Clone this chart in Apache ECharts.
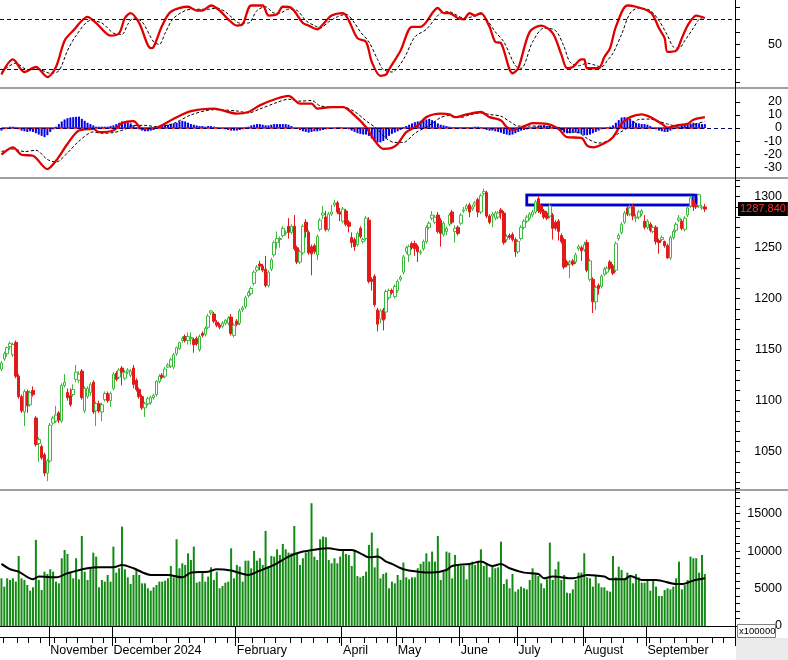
<!DOCTYPE html>
<html><head><meta charset="utf-8">
<script src="https://cdn.jsdelivr.net/npm/echarts@6/dist/echarts.min.js"></script>
<style>html,body{margin:0;padding:0;background:#fff}#c{width:788px;height:660px}</style>
</head><body><div id="c"></div>
<script>
// ---- Price candles [open, close, low, high] by month ----
const candlesOct = [
[1131,1137,1129,1139],[1141,1146,1139,1148],[1146,1152,1143,1153],[1153,1156,1150,1158],[1145,1155,1143,1157],
[1157,1124,1122,1159],[1124,1104,1102,1126],[1104,1090,1088,1106],[1089,1109,1075,1111],[1109,1095,1088,1111],
[1096,1108,1094,1110],[1110,1106,1104,1114],[1083,1057,1055,1085],[1058,1062,1040,1064],[1055,1044,1042,1057],
[1047,1029,1026,1049],[1029,1041,1021,1043]];
const candlesNov = [
[1041,1076,1039,1078],[1078,1083,1076,1085],[1080,1086,1078,1095],[1088,1081,1078,1090],[1080,1115,1078,1117],
[1115,1118,1113,1126],[1108,1103,1100,1112],[1105,1096,1094,1112],[1106,1111,1104,1116],[1121,1128,1118,1135],
[1120,1126,1117,1129],[1129,1103,1101,1131],[1090,1112,1088,1114],[1104,1112,1102,1114],[1108,1116,1105,1118],
[1118,1089,1087,1120],[1090,1097,1075,1099],[1097,1090,1088,1100],[1089,1096,1080,1098],[1101,1107,1099,1109],
[1107,1100,1098,1109],[1100,1107,1094,1109]];
const candlesDec = [
[1112,1126,1110,1128],[1127,1121,1119,1129],[1123,1130,1121,1132],[1132,1128,1115,1134],[1122,1128,1120,1130],
[1128,1130,1126,1132],[1125,1129,1123,1131],[1132,1116,1112,1135],[1120,1111,1109,1122],[1111,1104,1102,1113],
[1104,1093,1091,1106],[1093,1097,1084,1099],[1097,1102,1095,1104],[1098,1103,1096,1105],[1103,1105,1101,1107],
[1106,1119,1104,1120],[1119,1124,1117,1126],[1125,1123,1121,1127],[1124,1131,1122,1133],[1133,1135,1132,1137],
[1134,1140,1132,1142]];
const candlesJan = [
[1133,1145,1131,1147],[1146,1152,1144,1153],[1151,1157,1150,1158],[1159,1161,1157,1163],[1163,1159,1157,1165],
[1159,1163,1155,1167],[1161,1162,1155,1167],[1160,1155,1147,1162],[1161,1156,1154,1163],[1150,1163,1148,1165],
[1166,1164,1162,1168],[1165,1171,1163,1173],[1172,1183,1170,1185],[1186,1188,1184,1189],[1185,1178,1176,1187],
[1177,1174,1172,1179],[1174,1172,1170,1176],[1173,1176,1171,1178],[1176,1179,1174,1180],[1176,1181,1174,1183],
[1182,1166,1164,1185],[1164,1174,1162,1176]];
const candlesFeb = [
[1178,1175,1173,1180],[1176,1188,1174,1190],[1189,1191,1187,1193],[1192,1201,1190,1203],[1203,1206,1201,1208],
[1205,1210,1203,1212],[1215,1226,1213,1228],[1228,1231,1226,1233],[1234,1232,1228,1237],[1232,1228,1226,1234],
[1229,1213,1211,1242],[1213,1226,1211,1228],[1229,1238,1227,1240],[1243,1255,1241,1257],[1255,1259,1249,1266],
[1258,1259,1250,1261]];
const candlesMar = [
[1262,1269,1260,1271],[1264,1265,1262,1267],[1271,1265,1259,1279],[1265,1271,1263,1273],[1271,1249,1247,1282],
[1250,1236,1234,1252],[1236,1246,1234,1248],[1245,1271,1243,1273],[1275,1266,1260,1278],[1265,1245,1243,1267],
[1251,1244,1223,1253],[1252,1246,1244,1254],[1243,1261,1238,1263],[1268,1277,1266,1279],[1282,1284,1278,1291],
[1280,1268,1266,1286],[1268,1283,1266,1285],[1283,1285,1281,1292],[1292,1294,1290,1297],[1294,1285,1283,1296],
[1285,1283,1276,1289]];
const candlesApr = [
[1276,1288,1274,1290],[1286,1273,1271,1288],[1275,1271,1265,1277],[1260,1255,1250,1265],[1258,1251,1247,1260],
[1253,1264,1251,1266],[1269,1261,1259,1271],[1256,1258,1254,1260],[1259,1279,1257,1281],[1277,1217,1215,1280],
[1219,1217,1208,1221],[1222,1194,1192,1224],[1189,1175,1168,1191],[1180,1188,1176,1190],[1189,1179,1169,1191],
[1187,1207,1180,1209],[1201,1208,1199,1210],[1208,1206,1204,1210],[1202,1212,1200,1214],[1208,1217,1206,1219]];
const candlesMay = [
[1219,1221,1217,1223],[1226,1241,1224,1243],[1246,1250,1244,1252],[1243,1251,1236,1253],[1254,1250,1248,1256],
[1254,1249,1242,1257],[1251,1246,1236,1253],[1245,1246,1243,1248],[1249,1256,1247,1258],[1256,1270,1254,1272],
[1270,1274,1268,1276],[1279,1282,1277,1286],[1275,1280,1273,1282],[1282,1266,1264,1285],[1277,1264,1251,1279],
[1263,1274,1261,1276],[1266,1269,1262,1271],[1273,1282,1271,1284],[1285,1275,1273,1287],[1266,1269,1255,1272],
[1270,1264,1262,1272],[1274,1282,1272,1284]];
const candlesJun = [
[1286,1287,1284,1290],[1288,1291,1286,1293],[1292,1285,1280,1294],[1288,1290,1286,1292],[1292,1294,1290,1296],
[1297,1285,1280,1299],[1285,1301,1283,1303],[1303,1305,1301,1308],[1304,1281,1279,1306],[1281,1275,1273,1283],
[1281,1283,1270,1285],[1279,1284,1277,1286],[1280,1284,1278,1286],[1287,1284,1278,1289],[1284,1255,1253,1286],
[1258,1261,1256,1263],[1262,1260,1258,1264],[1263,1258,1256,1265],[1258,1246,1241,1260],[1246,1256,1244,1258]];
const candlesJul = [
[1259,1270,1257,1272],[1270,1276,1268,1278],[1276,1280,1274,1282],[1279,1283,1277,1285],[1282,1285,1280,1287],
[1285,1295,1283,1297],[1298,1286,1284,1301],[1291,1285,1283,1293],[1286,1280,1278,1288],[1284,1279,1277,1286],
[1281,1291,1279,1293],[1282,1269,1258,1284],[1275,1269,1267,1277],[1276,1266,1257,1278],[1262,1256,1254,1264],
[1258,1231,1229,1260],[1236,1233,1231,1238],[1234,1236,1220,1238],[1237,1234,1232,1239],[1236,1243,1234,1245],
[1249,1251,1247,1253],[1250,1247,1237,1252],[1248,1253,1246,1256],[1255,1228,1226,1258]];
const candlesAug = [
[1219,1237,1217,1239],[1219,1197,1186,1221],[1197,1211,1189,1213],[1213,1210,1204,1215],[1212,1222,1210,1224],
[1224,1229,1222,1231],[1226,1230,1224,1232],[1236,1230,1228,1238],[1232,1225,1223,1234],[1228,1254,1226,1256],
[1259,1262,1257,1264],[1265,1273,1263,1275],[1275,1284,1273,1286],[1289,1283,1281,1291],[1283,1289,1281,1292],
[1290,1281,1277,1293],[1279,1280,1275,1283],[1280,1285,1278,1287],[1283,1286,1281,1288],[1276,1270,1268,1282]];
const candlesSep = [
[1270,1276,1268,1278],[1273,1267,1265,1275],[1266,1270,1264,1272],[1270,1256,1253,1272],[1257,1255,1244,1259],
[1258,1260,1256,1262],[1256,1252,1250,1257],[1252,1240,1239,1254],[1240,1260,1238,1262],[1260,1266,1258,1268],
[1267,1273,1265,1275],[1277,1279,1275,1282],[1276,1269,1267,1278],[1268,1279,1266,1281],[1282,1289,1280,1291],
[1291,1299,1289,1301],[1296,1290,1286,1301],[1292,1290,1288,1294],[1291,1302,1289,1303],[1289,1290,1287,1292],
[1290,1287.84,1285,1293]];
const lastPrice = 1287.84;

// ---- Volume (x100000) ----
const volumes = [
6370,5260,6370,6150,6370,5930,9360,6370,6150,5480,4720,5170,11500,6150,4810,7260,6950,7580,7260,5930,
5700,9050,10160,9630,7130,6370,9050,6240,12030,7260,6150,7840,9800,9270,5170,6150,5930,6820,5930,10610,
7130,7710,13280,7580,6500,5610,6820,7490,6820,5700,5700,5040,4720,5170,5480,5930,5930,6060,6370,8020,
6500,11590,7710,8380,8160,9710,8820,10610,5790,5930,7260,5930,6600,7840,6150,7260,5040,5350,5790,5930,
10380,6370,8160,7930,5930,8730,8730,7710,10030,8730,9050,8160,12700,7930,9360,9270,10250,9490,10960,10250,
9800,9710,13370,9710,8160,9050,9800,9940,16400,9270,8820,11590,11940,11850,8820,8380,9050,8380,9270,10250,
9630,9490,8020,10160,6680,6500,6680,7260,10830,12480,7840,10380,6370,6950,7130,5040,5930,5700,6820,6150,
8470,6500,6240,6500,6500,7710,8290,8600,9710,8600,9940,8600,12030,6150,7260,9940,9800,6370,9490,8160,
8020,8020,6240,8160,8600,8160,8600,10250,8020,8380,6500,8020,7710,7840,11270,5610,6240,5040,6950,4590,
4900,5260,5040,4900,6150,7710,6950,6680,5700,5040,6240,11140,6150,7580,8600,6150,6820,4450,4370,4900,
6150,7130,7130,9710,6500,6370,5260,6680,5700,5170,5170,4720,4590,9360,6500,7930,7490,6150,7130,6820,
5700,6950,6500,5790,5790,6240,4720,6240,5260,4010,4010,4810,5040,4900,5260,6370,8600,4900,5480,6150,
9270,9050,9050,7130,9490,6950];
const volumeMa = [[0,8290],[3,7580],[6,7260],[11,6240],[13,6600],[19,6500],[23,7040],[30,7710],[34,7840],[39,7840],
[42,8160],[46,7710],[52,6820],[58,6820],[63,6500],[66,7130],[72,7260],[75,7580],[80,7400],[86,6820],[90,7400],
[95,8160],[100,9270],[105,9940],[110,10250],[114,10380],[118,10160],[122,10160],[125,9710],[128,9180],[131,9270],
[134,8600],[136,8290],[140,7580],[145,7260],[150,7130],[155,7490],[157,8020],[163,8290],[167,8600],[171,8020],
[174,8290],[177,7710],[182,7130],[187,6950],[189,6370],[192,6600],[199,6370],[204,6820],[210,6600],[212,6240],
[217,6240],[219,6680],[223,6150],[228,6150],[235,5610],[237,5610],[241,6060],[245,6370]];

// ---- RSI ----
const rsiLine = [[0,26],[4,38],[8,28],[12,32],[16,24],[19,32],[22,53],[25,61],[30,72],[33,67],[38,57],[41,59],[43,71],
[45,75],[48,67],[52,47],[53,48],[56,65],[59,76],[65,80],[68,77],[70,77],[73,81],[76,77],[79,70],[82,65],[84,66],
[87,81],[91,81],[93,73],[96,74],[98,80],[101,79],[105,67],[107,65],[110,62],[112,66],[115,73],[119,75],[121,69],
[124,55],[127,52],[129,36],[132,25],[134,26],[135,30],[139,45],[143,64],[146,64],[152,79],[154,75],[156,75],
[159,71],[161,70],[163,75],[165,73],[167,75],[170,64],[172,52],[174,51],[178,27],[180,31],[184,60],[188,65],
[192,59],[195,42],[197,31],[199,32],[202,38],[203,38],[204,31],[208,31],[210,40],[212,47],[214,64],[218,81],
[221,80],[225,77],[227,73],[229,63],[231,55],[232,44],[235,45],[237,55],[239,65],[242,73],[245,71]];
const rsiSignal = [[0,28],[5,35],[9,30],[13,30],[17,27],[20,29],[23,45],[26,57],[31,69],[35,67],[39,59],[42,58],[44,66],
[46,71],[49,68],[53,52],[55,50],[57,59],[60,71],[66,78],[69,78],[72,78],[75,79],[78,76],[80,72],[83,67],[86,67],
[89,77],[92,80],[95,75],[97,75],[100,78],[103,77],[106,69],[109,65],[111,63],[114,68],[117,72],[120,74],[123,67],
[125,60],[128,52],[131,38],[133,30],[136,28],[140,38],[144,56],[148,62],[153,75],[156,76],[158,74],[161,71],
[164,72],[167,74],[169,70],[172,60],[175,52],[179,33],[181,31],[185,52],[189,63],[193,61],[196,48],[198,36],
[201,33],[204,35],[206,34],[209,32],[211,37],[213,43],[216,58],[219,75],[222,79],[226,77],[229,69],[232,57],
[234,48],[236,47],[238,53],[241,63],[243,70],[245,72]];
const rsiLevels = [70, 30];

// ---- MACD ----
const macdLine = [[0,-20.4],[4,-14.8],[7,-20.4],[11,-21.2],[16,-31.4],[19,-25],[23,-12.2],[27,-1.9],[32,-0.6],[34,-3.2],
[39,-1.9],[42,3.7],[46,5.2],[49,-0.6],[54,0.2],[60,7.1],[66,12.9],[74,14.8],[82,10.9],[86,12.2],[90,17.3],[96,22.5],
[100,24.5],[104,18.6],[108,18.6],[110,14.8],[115,16],[119,16],[123,9.6],[127,0.6],[130,-9.6],[133,-16],[136,-15.2],
[138,-12.2],[141,-3.2],[145,1.9],[148,8.3],[153,10.9],[156,10.4],[158,8.3],[162,10.4],[167,12.2],[170,8.3],[174,5.8],
[176,0.6],[178,-1.4],[182,1.2],[185,3.7],[190,3.2],[194,-0.6],[197,-7],[202,-7.5],[204,-13.5],[206,-14.8],[210,-11.7],
[213,-7],[216,3.2],[219,8.3],[223,10.4],[226,8.3],[230,3.2],[232,0.2],[235,1.9],[239,3.2],[241,6.3],[245,8.3]];
const macdSignal = [[0,-18],[4,-16],[8,-18],[12,-17],[16,-24],[19,-26],[23,-19],[27,-10],[32,-3],[35,-4],[39,-3.5],
[43,-1],[46,2],[50,2],[54,1],[60,3.5],[66,10],[74,14],[82,13],[86,11.5],[90,14.5],[96,19.5],[100,22],[104,20.5],
[108,21],[111,17],[115,16],[119,16],[123,12.5],[127,5.5],[131,-1],[134,-8],[137,-11],[140,-11],[144,-4],[149,2],
[153,8],[156,9.5],[160,8],[163,10],[167,11.5],[170,10.3],[174,9],[177,5],[180,1.5],[184,1.5],[189,1.5],[194,0.5],
[197,-3],[201,-3.5],[204,-8],[208,-11.5],[211,-10],[215,-4],[219,1.3],[222,6.5],[226,6.8],[229,5],[232,3],[235,1.4],
[239,0.2],[241,2.5],[245,5]];
const macdHist = [
-2,-1,0,1,1,0.5,-1,-2,-2.5,-3,-2.5,-3,-4,-5,-6,-7,-5.5,-3,-1,1,
3,5,6.5,7.5,8,8.3,8.5,8.7,7,5.5,4,3,2,1,1,1,1,1,1.5,2,
3,4,5,5,4.5,3.5,2,0.5,-1,-2,-2.5,-2.5,-2,-1.5,-0.5,0.5,1.5,2,2.5,3,
3.5,4,5,5.5,5,4,3,2.5,2,1.5,1.5,1,1.5,1.5,1,0.5,0,-0.5,-1,-1.5,
-2,-2,-2,-1.5,-1,0.5,1,2,2.5,3,3,2.5,2,2,2.5,3,3,3,3,3,
2.5,1.5,0,-0.5,-1.5,-2.5,-3,-3.5,-3,-2.5,-2.5,-2,-1.5,-1,-0.5,-0.5,0,0.5,0.5,0,
-0.5,-1,-2,-3,-4,-4.5,-5,-5,-6,-8,-10,-11,-11,-10,-8,-6,-4.5,-3.5,-2.5,-1.5,
0.5,1.5,2.5,3.5,4.5,5,5.5,6,6.5,7,6,5,3.5,2.5,2,1.5,1,0.5,0.5,0.5,
0.5,0.5,0.5,0.5,0.5,1,1,0.5,-0.5,-1.5,-2,-2,-2.5,-3,-3.5,-4.5,-5,-5.5,-5,-4,
-3,-2,-1.5,-1,0,0.5,1,1.5,2,2,1.5,1.5,1,0.5,-1,-2,-3.5,-4,-4,-3,
-3.5,-4,-4.5,-5.5,-5.5,-5,-4,-3,-2,-1,-0.5,0.5,1,2,4,6,8,8.3,8,7,
5.5,4,3.5,3,3,2.5,1.5,0,-1,-2,-2.5,-3,-3,-2,-1,0.5,1,2,2.5,3,
3.5,4,3.5,3.5,3,3];

// ---- Time axis labels (trading-day index where each month starts) ----
const monthLabels = [[17,'November'],[39,'December'],[60,'2024'],[82,'February'],[119,'April'],[138,'May'],
[160,'June'],[180,'July'],[203,'August'],[225,'September']];
const monthSeparators = [17,39,82,119,138,160,180,203,225];

// ---- Build ----
const candles = [].concat(candlesOct,candlesNov,candlesDec,candlesJan,candlesFeb,candlesMar,candlesApr,
  candlesMay,candlesJun,candlesJul,candlesAug,candlesSep);
const N_CATS = 256;
const xCats = Array.from({length: N_CATS}, (_, i) => String(i));
const labelMap = {}; monthLabels.forEach(m => labelMap[m[0]] = m[1]);
const sepSet = new Set(monthSeparators);
const labelSet = new Set(monthLabels.map(m => m[0]));
const FONT = "'Liberation Sans', Arial, sans-serif";
const RED = '#e00000', GREEN = '#3cb83c', NAVY = '#000080';
const plain = (v) => String(v);

function hiddenX(g, extra) {
  return Object.assign({type:'category', gridIndex:g, data:xCats, boundaryGap:true,
    axisLine:{show:false}, axisTick:{show:false}, axisLabel:{show:false}, splitLine:{show:false}}, extra || {});
}
function yLabel(extra) {
  return Object.assign({color:'#000', fontFamily:FONT, fontSize:12.5, align:'right', margin:47, formatter:plain}, extra || {});
}
function rightY(g, extra) {
  return Object.assign({type:'value', gridIndex:g, position:'right', scale:false,
    axisLine:{show:false},
    axisTick:{show:true, inside:false, length:5, lineStyle:{color:'#000'}},
    axisLabel:yLabel(),
    splitLine:{show:false}}, extra || {});
}
function weekTick(i) {
  return Math.floor((i*2.87 - 2.6)/12.4) !== Math.floor(((i-1)*2.87 - 2.6)/12.4) && !sepSet.has(i);
}

const chart = echarts.init(document.getElementById('c'), null, {renderer:'canvas'});
chart.setOption({
  animation:false,
  backgroundColor:'#fff',
  grid:[
    {left:0, right:53, top:6.75, height:75.3},
    {left:0, right:53, top:101.8, height:65.5},
    {left:0, right:53, top:180.4, height:308},
    {left:0, right:53, top:492, height:134}
  ],
  xAxis:[
    hiddenX(0), hiddenX(1), hiddenX(2),
    hiddenX(3, {axisLine:{show:true, onZero:false, lineStyle:{color:'#000', width:1}}}),
    hiddenX(3, {position:'bottom', offset:11, axisLine:{show:true, onZero:false, lineStyle:{color:'#000'}},
      axisTick:{show:true, length:6, lineStyle:{color:'#000'}, interval:(i)=>weekTick(i)}}),
    hiddenX(3, {position:'bottom', offset:11,
      axisTick:{show:true, length:20, lineStyle:{color:'#000'}, interval:(i)=>sepSet.has(i)},
      axisLabel:{show:true, interval:(i)=>labelSet.has(i), formatter:(v,i)=>labelMap[i]||'',
        align:'left', margin:7, color:'#000', fontFamily:FONT, fontSize:12.5}})
  ],
  yAxis:[
    rightY(0, {min:20, max:80, interval:10, axisLabel:yLabel({formatter:(v)=> v===50 ? '50' : ''})}),
    rightY(1, {min:-30, max:20, interval:10}),
    rightY(2, {min:1014, max:1316, splitNumber:6,
      minorTick:{show:true, splitNumber:5, length:5, lineStyle:{color:'#000'}},
      axisLabel:yLabel({showMinLabel:false, showMaxLabel:false})}),
    rightY(3, {min:0, max:17900, interval:5000,
      minorTick:{show:true, splitNumber:5, length:5, lineStyle:{color:'#000'}},
      axisLabel:yLabel({showMaxLabel:false})})
  ],
  series:[
    {type:'line', xAxisIndex:0, yAxisIndex:0, data:rsiSignal, symbol:'none', clip:false, silent:true, smooth:0.3,
      lineStyle:{color:'#000', width:1, type:[3,2]},
      markLine:{silent:true, symbol:'none', label:{show:false},
        lineStyle:{color:NAVY, width:1, type:[4,3]}, data:rsiLevels.map(v=>({yAxis:v}))}},
    {type:'line', xAxisIndex:0, yAxisIndex:0, data:rsiLine, symbol:'none', clip:false, silent:true, smooth:0.3,
      lineStyle:{color:RED, width:2.3}},
    {type:'bar', xAxisIndex:1, yAxisIndex:1, data:macdHist, barWidth:2, silent:true,
      itemStyle:{color:'#0000ee'},
      markLine:{silent:true, symbol:'none', label:{show:false},
        lineStyle:{color:NAVY, width:1, type:[4,3]}, data:[{yAxis:0}]}},
    {type:'line', xAxisIndex:1, yAxisIndex:1, data:[[0,0],[candles.length-1,0]], symbol:'none', silent:true,
      lineStyle:{color:RED, width:1.3}},
    {type:'line', xAxisIndex:1, yAxisIndex:1, data:macdSignal, symbol:'none', clip:false, silent:true, smooth:0.3,
      lineStyle:{color:'#000', width:1, type:[3,2]}},
    {type:'line', xAxisIndex:1, yAxisIndex:1, data:macdLine, symbol:'none', clip:false, silent:true, smooth:0.3,
      lineStyle:{color:RED, width:2.3}},
    {type:'candlestick', xAxisIndex:2, yAxisIndex:2, data:candles, barWidth:3, silent:true,
      itemStyle:{color:'#ffffff', color0:'#e31a1a', borderColor:GREEN, borderColor0:'#e31a1a', borderWidth:1},
      markLine:{silent:true, symbol:'none', lineStyle:{color:'rgba(0,0,0,0)', width:1},
        label:{show:true, position:'end', distance:3, formatter:lastPrice.toFixed(3),
          backgroundColor:'#000', color:'#ff3030', fontFamily:FONT, fontSize:11, padding:[2,2,1,2]},
        data:[{yAxis:lastPrice}]},
      markArea:{silent:true, itemStyle:{color:'rgba(0,0,0,0)', borderColor:'#0000cc', borderWidth:2.5},
        data:[[{xAxis:183, yAxis:1301.7},{xAxis:242, yAxis:1292}],
              [{xAxis:183, yAxis:1301.7},{xAxis:241, yAxis:1292}]]}},
    {type:'bar', xAxisIndex:3, yAxisIndex:3, data:volumes, barWidth:2, silent:true,
      itemStyle:{color:'#138a13'}},
    {type:'line', xAxisIndex:3, yAxisIndex:3, data:volumeMa, symbol:'none', silent:true, smooth:0.3,
      lineStyle:{color:'#000', width:2}}
  ],
  graphic:[
    {type:'rect', shape:{x:0, y:87, width:788, height:2}, style:{fill:'#a0a0a0'}, silent:true, z:100},
    {type:'rect', shape:{x:0, y:177, width:788, height:2}, style:{fill:'#a0a0a0'}, silent:true, z:100},
    {type:'rect', shape:{x:0, y:489, width:788, height:2}, style:{fill:'#a0a0a0'}, silent:true, z:100},
    {type:'line', shape:{x1:735.5, y1:0, x2:735.5, y2:637}, style:{stroke:'#000', lineWidth:1}, silent:true, z:101},
    {type:'rect', shape:{x:736, y:638, width:52, height:22}, style:{fill:'#ebebeb'}, silent:true, z:99},
    {type:'rect', shape:{x:737.5, y:624.5, width:38, height:13}, style:{fill:'#fff', stroke:'#808080', lineWidth:1}, silent:true, z:102},
    {type:'text', x:739, y:626, style:{text:'x100000', fill:'#000', font:"9.5px 'Liberation Sans', Arial"}, silent:true, z:103}
  ]
});
</script></body></html>
